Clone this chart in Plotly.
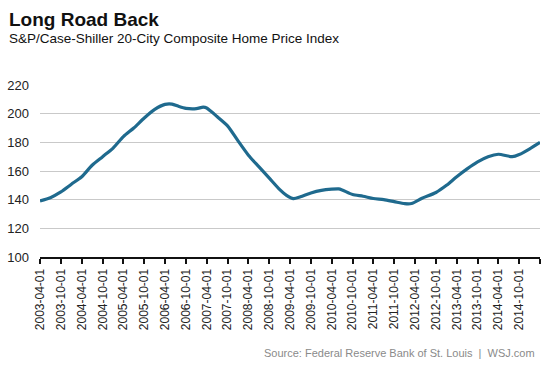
import plotly.graph_objects as go
import pandas as pd

# Data (S&P/Case-Shiller 20-City Composite)
dates = ["2003-04-01", "2003-07-01", "2003-10-01", "2004-01-01", "2004-04-01",
         "2004-07-01", "2004-10-01", "2005-01-01", "2005-04-01", "2005-07-01",
         "2005-10-01", "2006-01-01", "2006-04-01", "2006-06-01", "2006-08-01",
         "2006-10-01", "2007-01-01", "2007-03-01", "2007-04-01", "2007-07-01",
         "2007-10-01", "2008-01-01", "2008-04-01", "2008-07-01", "2008-10-01",
         "2009-01-01", "2009-03-01", "2009-05-01", "2009-07-01", "2009-10-01",
         "2010-01-01", "2010-04-01", "2010-06-01", "2010-07-01", "2010-10-01",
         "2011-01-01", "2011-04-01", "2011-07-01", "2011-10-01", "2012-01-01",
         "2012-03-01", "2012-06-01", "2012-10-01", "2013-01-01", "2013-04-01",
         "2013-07-01", "2013-10-01", "2014-01-01", "2014-04-01", "2014-08-01",
         "2014-10-01", "2015-01-01", "2015-04-01"]
values = [139.1, 141.4, 145.4, 150.8, 156.0,
          164.0, 170.0, 176.0, 184.0, 190.0,
          197.0, 203.0, 206.5, 206.7, 205.0,
          203.7, 203.5, 204.5, 204.0, 198.0,
          191.5, 181.0, 171.0, 163.0, 155.0,
          147.0, 143.0, 140.7, 142.0, 144.7,
          146.5, 147.3, 147.5, 146.8, 143.6,
          142.4, 140.8, 140.0, 138.6, 137.2,
          137.3, 141.0, 145.0, 150.0, 156.0,
          161.5, 166.4, 170.0, 171.7, 170.0,
          171.5, 175.5, 180.0]

tick_dates = [d.strftime("%Y-%m-%d") for d in pd.date_range("2003-04-01", "2015-04-01", freq="6MS")]
tick_labels = tick_dates[:-1] + [""]

y_ticks = [100, 120, 140, 160, 180, 200, 220]

title = "Long Road Back"
subtitle = "S&P/Case-Shiller 20-City Composite Home Price Index"
source = "Source: Federal Reserve Bank of St. Louis  |  WSJ.com"

fig = go.Figure()
fig.add_trace(go.Scatter(
    x=dates, y=values, mode="lines",
    line=dict(color="#1f6a8e", width=3.2, shape="spline", smoothing=0.7),
    hoverinfo="x+y", showlegend=False,
))

fig.update_layout(
    width=553, height=369,
    margin=dict(l=40, r=13, t=85, b=112),
    paper_bgcolor="white", plot_bgcolor="white",
    font=dict(family="Liberation Sans, Arial, sans-serif", color="#222222"),
    xaxis=dict(
        type="date", range=["2003-04-01", "2015-04-01"],
        tickmode="array", tickvals=tick_dates, ticktext=tick_labels,
        tickangle=-90, tickfont=dict(size=12, color="#222222"),
        ticks="outside", ticklen=5, tickwidth=1.5, tickcolor="#111111",
        showline=True, linecolor="#111111", linewidth=2,
        showgrid=False, zeroline=False, automargin=False,
    ),
    yaxis=dict(
        range=[100, 220], tickmode="array", tickvals=y_ticks,
        tickfont=dict(size=13, color="#222222"),
        showgrid=True, gridcolor="#c9c9c9", gridwidth=1,
        showline=False, zeroline=False, ticks="", ticklabelstandoff=10,
        automargin=False,
    ),
    annotations=[
        dict(text="<b>" + title + "</b>", xref="paper", yref="paper",
             x=(7 - 40) / 500, y=(256.7 - 20) / 171.7, xanchor="left", yanchor="middle",
             showarrow=False, font=dict(size=19, color="#111111")),
        dict(text=subtitle, xref="paper", yref="paper",
             x=(7 - 40) / 500, y=(256.7 - 39) / 171.7, xanchor="left", yanchor="middle",
             showarrow=False, font=dict(size=13.5, color="#111111")),
        dict(text=source, xref="paper", yref="paper",
             x=(537 - 40) / 500, y=(256.7 - 353) / 171.7, xanchor="right", yanchor="middle",
             showarrow=False, font=dict(size=11, color="#8a8a8a")),
    ],
)

fig.write_html("out.html", config={"displayModeBar": False},
               post_script="document.body.style.margin='0';document.body.style.overflow='hidden';")
